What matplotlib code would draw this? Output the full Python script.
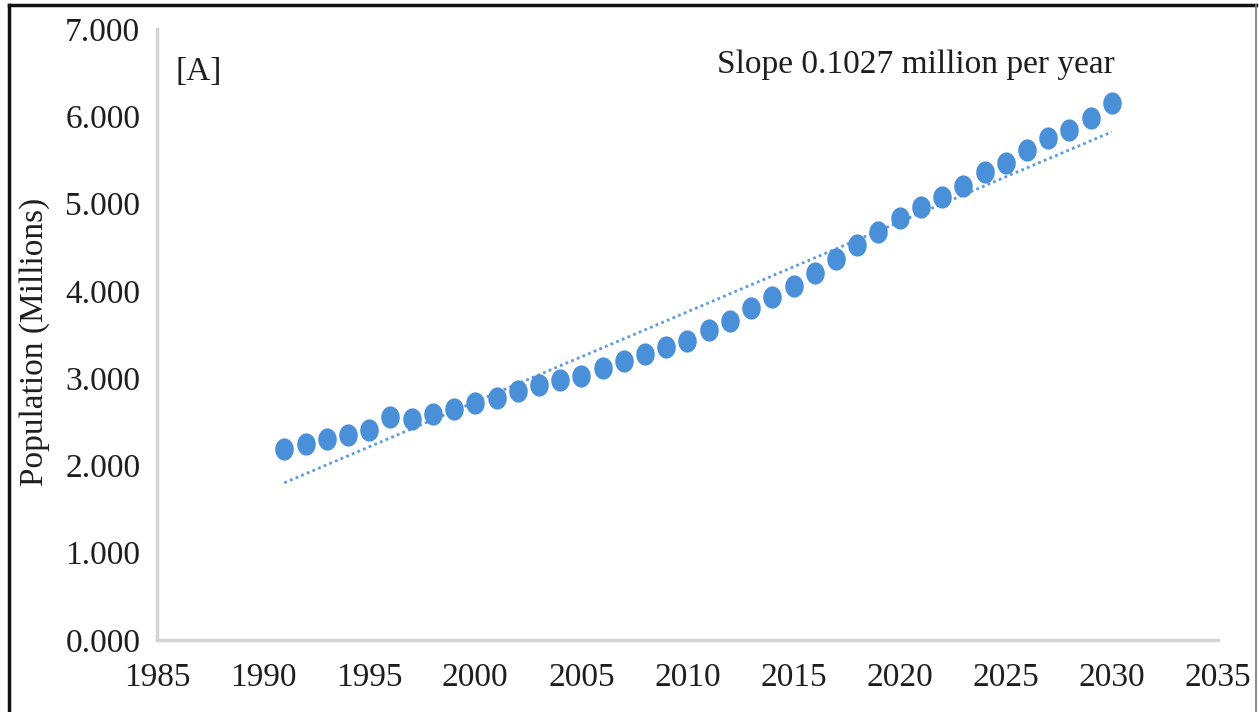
import numpy as np
import matplotlib
matplotlib.use("Agg")
import matplotlib.pyplot as plt
from matplotlib.path import Path
from matplotlib.lines import Line2D

# data
years = list(range(1991, 2031))
population = [2.19, 2.25, 2.30, 2.35, 2.41, 2.56, 2.53, 2.59, 2.65, 2.71,
              2.77, 2.85, 2.92, 2.98, 3.03, 3.12, 3.20, 3.28, 3.36, 3.43,
              3.55, 3.66, 3.80, 3.93, 4.05, 4.20, 4.36, 4.52, 4.67, 4.84,
              4.96, 5.07, 5.20, 5.36, 5.47, 5.61, 5.75, 5.84, 5.98, 6.15]
x_ticks = [1985, 1990, 1995, 2000, 2005, 2010, 2015, 2020, 2025, 2030, 2035]
y_ticks = [0, 1, 2, 3, 4, 5, 6, 7]

blue = '#4a90d9'
txt = '#1e1e1e'
plt.rcParams['font.family'] = ['Liberation Serif', 'DejaVu Serif']

fig = plt.figure(figsize=(12.59, 7.12), dpi=100)
ax = fig.add_axes([0.1247, 0.1011, 0.8427, 0.8582])

# slightly tall ellipse marker, like the stretched original
t = np.linspace(0, 2 * np.pi, 60)
ell = Path(np.column_stack([np.cos(t), 1.2 * np.sin(t)]), closed=True)

x = np.array(years, dtype=float)
y = np.array(population)
ax.plot(x, y, linestyle='none', marker=ell, markersize=16, color=blue,
        markeredgewidth=0, zorder=3)

# linear trendline
k, b = np.polyfit(x, y, 1)
ax.plot([x[0], x[-1]], [k * x[0] + b, k * x[-1] + b], linestyle=(0, (1, 1.2)),
        linewidth=2.0, color=blue, alpha=0.9, zorder=2)

ax.set_xlim(1985, 2035)
ax.set_ylim(0, 7)
ax.set_xticks(x_ticks)
ax.set_yticks(y_ticks)
ax.set_yticklabels(['%.3f' % v for v in y_ticks])
ax.tick_params(length=0, labelsize=24, labelcolor=txt)
ax.tick_params(axis='y', pad=12)
ax.tick_params(axis='x', pad=16)

for s in ['top', 'right']:
    ax.spines[s].set_visible(False)
for s in ['left', 'bottom']:
    ax.spines[s].set_color('#d4d4d4')
    ax.spines[s].set_linewidth(2.5)

ax.text(0.017, 0.93, '[A]', transform=ax.transAxes, fontsize=24, color=txt,
        va='center', ha='left')
ax.text(0.903, 0.942, 'Slope 0.1027 million per year', transform=ax.transAxes,
        fontsize=24, color=txt, va='center', ha='right')

fig.text(35 / 1259, 0.52, 'Population (Millions)', rotation=90, fontsize=24,
         color=txt, ha='center', va='center')

# outer frame of the original figure
fig.add_artist(Line2D([9 / 1259, 9 / 1259], [0, 1 - 5 / 712], transform=fig.transFigure,
                      color='#111111', linewidth=2.5))
fig.add_artist(Line2D([9 / 1259, 1256 / 1259], [1 - 5 / 712, 1 - 5 / 712],
                      transform=fig.transFigure, color='#111111', linewidth=2.5))
fig.add_artist(Line2D([1256 / 1259, 1256 / 1259], [0, 1 - 5 / 712], transform=fig.transFigure,
                      color='#777777', linewidth=1.2))

fig.savefig('out.png', dpi=100)
